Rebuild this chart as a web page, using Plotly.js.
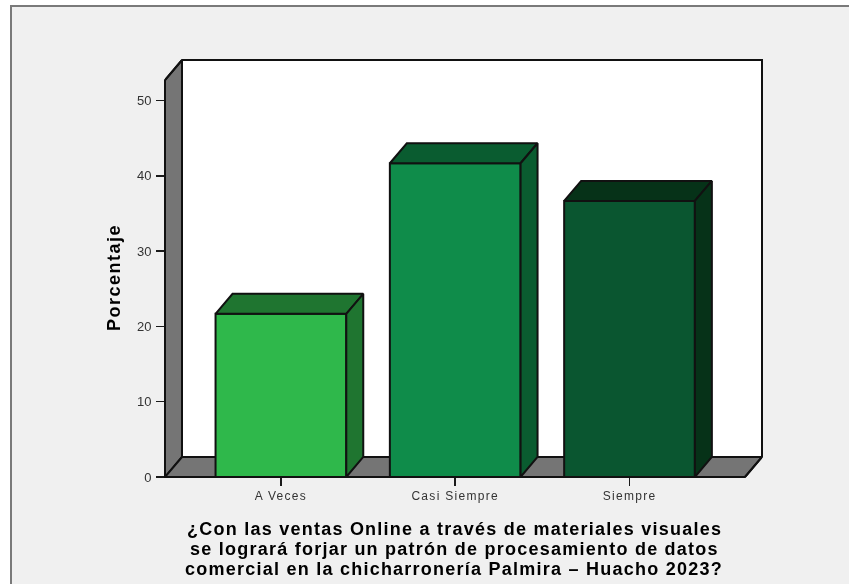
<!DOCTYPE html>
<html><head><meta charset="utf-8">
<script src="https://cdn.plot.ly/plotly-3.0.1.min.js"></script>
<style>
html,body{margin:0;padding:0;background:#fff;overflow:hidden}
#frame{position:absolute;left:10px;top:5px;width:839px;height:579px;box-sizing:border-box;border-left:2px solid #7a7a7a;border-top:2px solid #7a7a7a;background:#f0f0f0}
#chart{position:absolute;left:0;top:0;filter:blur(0.35px)}
</style></head><body>
<div id="frame"><div id="chart"></div></div>
<script>
const categories = ["A Veces", "Casi Siempre", "Siempre"];
const percentages = [21.67, 41.67, 36.67];
const yTicks = [0, 10, 20, 30, 40, 50];
const frontColors = ["#2fb84b", "#0f8c4a", "#0a5630"];
const darkColors = ["#1f7530", "#0a5c30", "#063218"];
const yTitle = "Porcentaje";
const xTitleLines = ["¿Con las ventas Online a través de materiales visuales",
  "se logrará forjar un patrón de procesamiento de datos",
  "comercial en la chicharronería Palmira – Huacho 2023?"];

const frameX = 12, frameY = 7;
const W = 849 - frameX, H = 584 - frameY;
const marginL = 164.5 - frameX, marginR = 849 - 762, marginT = 60 - frameY, marginB = 584 - 477;
const barW = 0.75, dx = 0.0974, dy = 2.656;
const xMin = -0.665, xMax = 2.76, yMax = 55.38;
const edge = {color: "#111111", width: 2};
const poly = p => "M" + p.map(q => q.join(",")).join("L") + "Z";
const spaced = (t, s) => '<span style="letter-spacing:' + s + 'px">' + t + '</span>';
const px = x => (x - xMin) / (xMax - xMin);
const py = y => y / yMax;

const shapes = [
  {type:"path", layer:"below", xref:"x", yref:"y", fillcolor:"#ffffff", line:edge,
   path: poly([[xMin+dx,dy],[xMax,dy],[xMax,yMax],[xMin+dx,yMax]])},
  {type:"path", layer:"below", xref:"x", yref:"y", fillcolor:"#757575", line:edge,
   path: poly([[xMin,0],[xMin+dx,dy],[xMin+dx,yMax],[xMin,yMax-dy]])},
  {type:"path", layer:"below", xref:"x", yref:"y", fillcolor:"#757575", line:edge,
   path: poly([[xMin,0],[xMax-dx,0],[xMax,dy],[xMin+dx,dy]])},
  // outer outline in paper coordinates, which are not clipped at the plot edge
  {type:"path", layer:"above", xref:"paper", yref:"paper", line:edge,
   path: poly([[px(xMin),py(yMax-dy)],[px(xMin),py(0)],[px(xMax-dx),py(0)],[px(xMax),py(dy)],[px(xMax),py(yMax)],[px(xMin+dx),py(yMax)]])}
];

const traces = [];
traces.push({type:"bar", x:[0,1,2], y:percentages, width:barW, showlegend:false,
  marker:{color:frontColors, line:edge}});
categories.forEach((c, i) => {
  const v = percentages[i], l = i - barW/2, r = i + barW/2;
  traces.push({type:"scatter", mode:"lines", fill:"toself", fillcolor:darkColors[i], line:edge, hoverinfo:"skip", showlegend:false,
    x:[l, r, r+dx, l+dx, l], y:[v, v, v+dy, v+dy, v]});
  traces.push({type:"scatter", mode:"lines", fill:"toself", fillcolor:darkColors[i], line:edge, hoverinfo:"skip", showlegend:false,
    x:[r, r+dx, r+dx, r, r], y:[0, dy, v+dy, v, 0]});
});

const annotations = xTitleLines.map((t, i) => ({
  xref:"x", yref:"paper", x:0.995, y:0, xanchor:"center", yanchor:"middle", yshift:-51.5 - i*20, showarrow:false,
  text:"<b>" + spaced(t, 1.24) + "</b>", font:{size:18, color:"#000000"}
}));
annotations.push({
  xref:"paper", yref:"paper", x:0, y:0, xanchor:"center", yanchor:"middle", xshift:-51, yshift:199,
  textangle:-90, showarrow:false,
  text:"<b>" + spaced(yTitle, 1.5) + "</b>", font:{size:18, color:"#000000"}
});

Plotly.newPlot("chart", traces, {
  width:W, height:H, autosize:false,
  margin:{l:marginL, r:marginR, t:marginT, b:marginB, pad:0},
  paper_bgcolor:"#f0f0f0", plot_bgcolor:"rgba(0,0,0,0)",
  showlegend:false, shapes:shapes, annotations:annotations,
  font:{family:"Liberation Sans, Arial, sans-serif", color:"#1a1a1a"},
  xaxis:{range:[xMin,xMax], tickmode:"array", tickvals:[0,1,2], ticktext:categories.map(c=>spaced(c,1.3)),
    showgrid:false, zeroline:false, showline:false, ticks:"outside", ticklen:8, tickwidth:1.5, tickcolor:"#1a1a1a",
    tickfont:{size:12, color:"#333333"}},
  yaxis:{range:[0,yMax], tickmode:"array", tickvals:yTicks, ticktext:yTicks.map(String),
    showgrid:false, zeroline:false, showline:false, ticks:"outside", ticklen:8, tickwidth:1.5, tickcolor:"#1a1a1a",
    ticklabelstandoff:2, tickfont:{size:13, color:"#333333"}}
}, {displayModeBar:false, staticPlot:true});
</script></body></html>
